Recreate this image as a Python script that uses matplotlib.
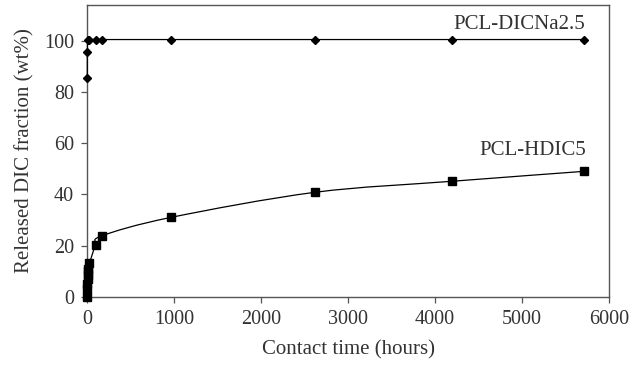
import numpy as np
import matplotlib
matplotlib.use("Agg")
import matplotlib.pyplot as plt
from matplotlib.path import Path
from matplotlib.patches import PathPatch

plt.rcParams['font.family'] = ['Liberation Serif', 'DejaVu Serif']

# Data
dicna_x = [0, 0, 3, 24, 96, 168, 963, 2619, 4190, 5716]
dicna_y = [85.5, 95.5, 100.5, 100.5, 100.5, 100.5, 100.5, 100.5, 100.5, 100.5]
hdic_x = [0, 1, 2, 3, 4, 6, 8, 24, 96, 168, 963, 2619, 4190, 5716]
hdic_y = [0, 3, 5, 7, 8.5, 10, 11, 13, 20.2, 23.8, 31.0, 40.8, 45.1, 49.0]
xticks = [0, 1000, 2000, 3000, 4000, 5000, 6000]
yticks = [0, 20, 40, 60, 80, 100]
label_dicna = "PCL-DICNa2.5"
label_hdic = "PCL-HDIC5"

XMAX, YMAX = 6000, 114
text_color = '#333333'
spine_color = '#555555'
TICK_FS = 14.5
LABEL_FS = 15

fig = plt.figure(figsize=(6.32, 3.68), dpi=100)
ax = fig.add_axes([87.3/632, 1 - 296.7/368, (609 - 87.3)/632, (296.7 - 5)/368])

# DICNa: straight line with diamonds
ax.plot(dicna_x, dicna_y, color='black', lw=0.9, marker='D', markersize=3.8,
        clip_on=False, zorder=3)

# HDIC5: smoothed line (Catmull-Rom in normalized axes space)
px = np.array(hdic_x, float) / XMAX
py = np.array(hdic_y, float) / YMAX
verts = [(px[0], py[0])]
codes = [Path.MOVETO]
n = len(px)
for i in range(n - 1):
    p0 = np.array([px[max(i - 1, 0)], py[max(i - 1, 0)]])
    p1 = np.array([px[i], py[i]])
    p2 = np.array([px[i + 1], py[i + 1]])
    p3 = np.array([px[min(i + 2, n - 1)], py[min(i + 2, n - 1)]])
    c1 = p1 + (p2 - p0) / 6
    c2 = p2 - (p3 - p1) / 6
    verts += [tuple(c1), tuple(c2), tuple(p2)]
    codes += [Path.CURVE4] * 3
verts = [(vx * XMAX, vy * YMAX) for vx, vy in verts]
ax.add_patch(PathPatch(Path(verts, codes), fill=False, edgecolor='black', lw=0.9, zorder=2))
ax.plot(hdic_x, hdic_y, linestyle='none', color='black', marker='s', markersize=5.6,
        clip_on=False, zorder=3)

ax.set_xlim(0, XMAX)
ax.set_ylim(0, YMAX)
ax.set_xticks(xticks)
ax.set_yticks(yticks)
ax.tick_params(direction='out', length=4.5, width=0.9, color=spine_color,
               labelsize=TICK_FS, labelcolor=text_color)
ax.tick_params(axis='y', pad=5)
ax.tick_params(axis='x', pad=5)
for s in ax.spines.values():
    s.set_color(spine_color)
    s.set_linewidth(1.0)

ax.set_xlabel("Contact time (hours)", fontsize=LABEL_FS, color=text_color, labelpad=8)
ax.set_ylabel("Released DIC fraction (wt%)", fontsize=LABEL_FS, color=text_color, labelpad=7)

ax.text(5720, 106.5, label_dicna, ha='right', va='center', fontsize=LABEL_FS, color=text_color)
ax.text(5740, 57, label_hdic, ha='right', va='center', fontsize=LABEL_FS, color=text_color)

fig.savefig("out.png", dpi=100)
